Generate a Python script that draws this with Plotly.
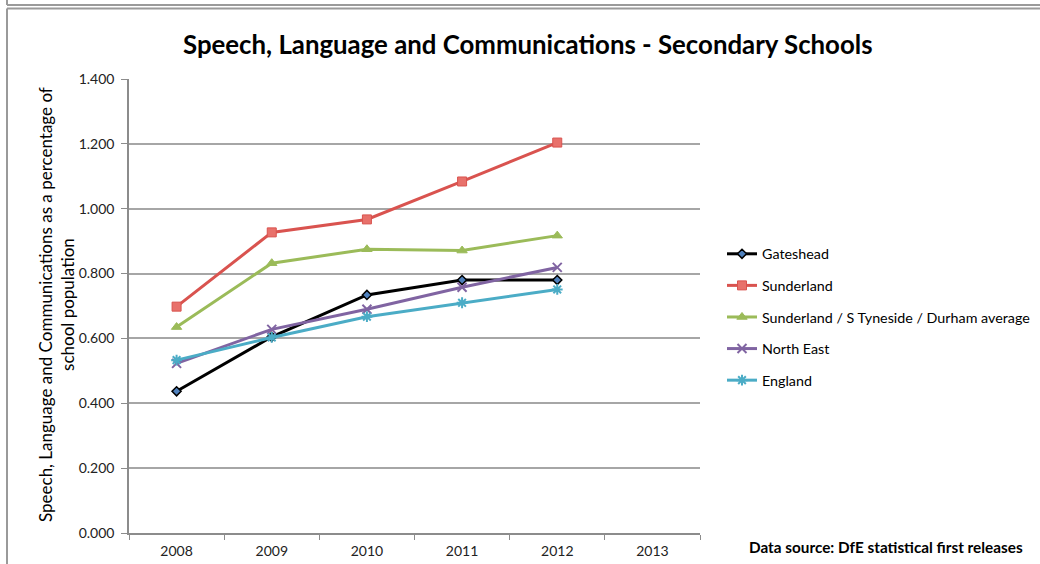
import plotly.graph_objects as go

# Academic years shown on the category axis (2013 has no data yet)
years = ["2008", "2009", "2010", "2011", "2012", "2013"]
data_years = ["2008", "2009", "2010", "2011", "2012"]

# Pupils with speech, language and communication needs (% of school population)
gateshead = [0.437, 0.605, 0.734, 0.780, 0.780]
sunderland = [0.698, 0.927, 0.967, 1.084, 1.204]
sstd_average = [0.635, 0.832, 0.875, 0.871, 0.917]
north_east = [0.523, 0.628, 0.690, 0.758, 0.819]
england = [0.533, 0.603, 0.667, 0.710, 0.751]

y_ticks = [0.0, 0.2, 0.4, 0.6, 0.8, 1.0, 1.2, 1.4]

FONT = "Lato, 'Open Sans', sans-serif"
W, H = 1040, 564
L, R, T, B = 129, 700, 79, 533  # plot area in pixels


def px(x):
    return (x - L) / (R - L)


def py(y):
    return (B - y) / (B - T)


series = [
    ("Gateshead", gateshead, "#000000",
     dict(symbol="diamond", size=7, color="#4f81bd", line=dict(color="#000000", width=1.5))),
    ("Sunderland", sunderland, "#d9534f",
     dict(symbol="square", size=9, color="#e8716b", line=dict(color="#d9534f", width=1))),
    ("Sunderland / S Tyneside / Durham average", sstd_average, "#9bbb59",
     dict(symbol="triangle-up", size=9, color="#9bbb59", line=dict(color="#9bbb59", width=1))),
    ("North East", north_east, "#8064a2",
     dict(symbol="x-thin-open", size=9, color="#8064a2", line=dict(color="#8064a2", width=2))),
    ("England", england, "#4bacc6",
     dict(symbol="asterisk-open", size=9, color="#4bacc6", line=dict(color="#4bacc6", width=2))),
]

fig = go.Figure()
for i, (name, vals, col, marker) in enumerate(series):
    fig.add_trace(go.Scatter(
        x=data_years, y=vals, name=name, mode="lines+markers",
        line=dict(color=col, width=3), marker=marker,
        legendgroup=f"g{i}",
    ))

shapes = [
    # frame of the panel above
    dict(type="line", xref="paper", yref="paper", x0=px(7), x1=px(1045), y0=py(5), y1=py(5),
         line=dict(color="#9a9a9a", width=2)),
    dict(type="line", xref="paper", yref="paper", x0=px(7), x1=px(7), y0=py(-5), y1=py(5),
         line=dict(color="#9a9a9a", width=2)),
    # chart frame
    dict(type="line", xref="paper", yref="paper", x0=px(7), x1=px(1045), y0=py(8.5), y1=py(8.5),
         line=dict(color="#9a9a9a", width=2)),
    dict(type="line", xref="paper", yref="paper", x0=px(7), x1=px(7), y0=py(8.5), y1=py(570),
         line=dict(color="#9a9a9a", width=2)),
]

annotations = [
    dict(text="<b>Speech, Language and Communications - Secondary Schools</b>",
         xref="paper", yref="paper", x=px(528), y=py(44), showarrow=False,
         xanchor="center", yanchor="middle", font=dict(size=25.8, color="#000000", family=FONT)),
    dict(text="Speech, Language and Communications as a percentage of<br>school population",
         xref="paper", yref="paper", x=px(56), y=py(305), showarrow=False, textangle=-90,
         xanchor="center", yanchor="middle", font=dict(size=17, color="#000000", family=FONT)),
    dict(text="<b>Data source: DfE statistical first releases</b>",
         xref="paper", yref="paper", x=px(1025), y=py(547), showarrow=False,
         xanchor="right", yanchor="middle", font=dict(size=15.3, color="#000000", family=FONT)),
]

fig.update_layout(
    width=W, height=H,
    margin=dict(l=L, r=W - R, t=T, b=H - B, autoexpand=False),
    paper_bgcolor="white", plot_bgcolor="white",
    font=dict(family=FONT, size=14, color="#222222"),
    showlegend=True,
    legend=dict(xref="container", yref="container",
                x=722 / W, y=1 - 238 / H, xanchor="left", yanchor="top",
                font=dict(size=14.3, color="#000000", family=FONT),
                tracegroupgap=10, itemwidth=30, bgcolor="rgba(0,0,0,0)"),
    shapes=shapes, annotations=annotations,
)

fig.update_xaxes(
    type="category", categoryorder="array", categoryarray=years,
    range=[-0.5, 5.5], tickson="boundaries", ticks="outside", ticklen=5,
    tickcolor="#8c8c8c", showline=True, linecolor="#8c8c8c", linewidth=1.5,
    showgrid=False, tickfont=dict(size=14, color="#222222"), fixedrange=True,
    ticklabelstandoff=4,
)
fig.update_yaxes(
    range=[0, 1.4], tickvals=y_ticks, tickformat=".3f",
    ticks="outside", ticklen=6, tickcolor="#8c8c8c",
    showline=True, linecolor="#8c8c8c", linewidth=1.5,
    showgrid=True, gridcolor="#a6a6a6", gridwidth=1.5, zeroline=False,
    tickfont=dict(size=14, color="#222222"), fixedrange=True,
    ticklabelstandoff=4,
)

fig.write_html("out.html")
